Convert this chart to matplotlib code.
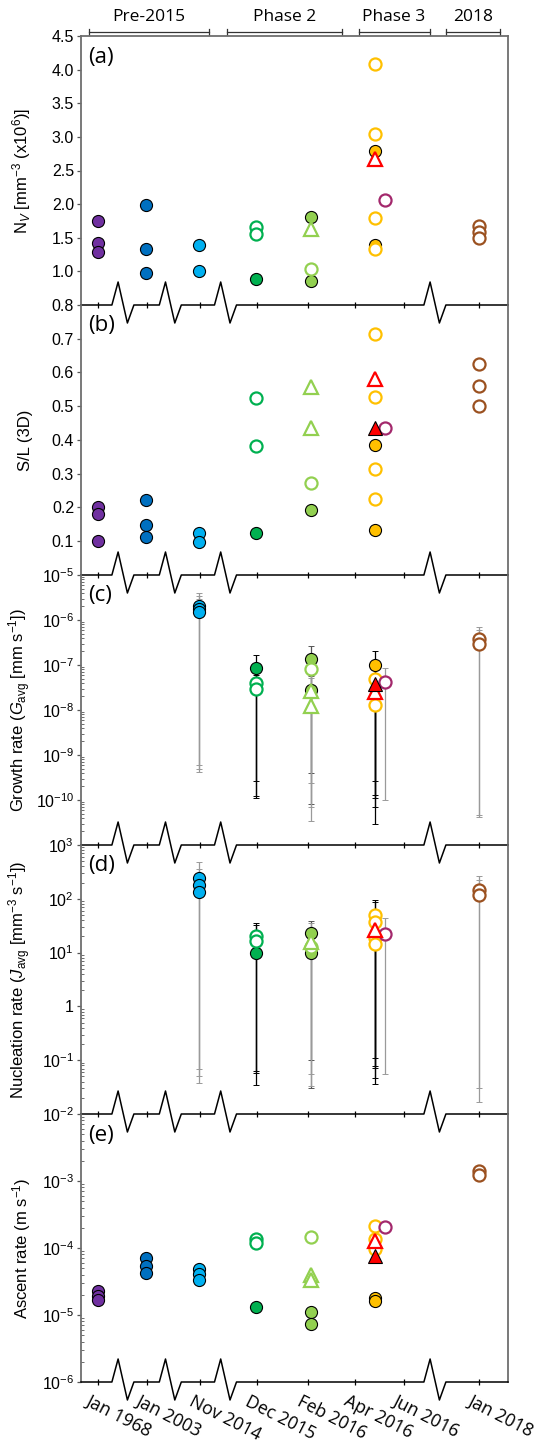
import numpy as np
import matplotlib
matplotlib.use('Agg')
import matplotlib.pyplot as plt
import matplotlib.transforms as mtransforms

plt.rcParams['font.family'] = ['Liberation Sans', 'DejaVu Sans']
plt.rcParams['mathtext.fontset'] = 'custom'
plt.rcParams['mathtext.rm'] = 'Liberation Sans'
plt.rcParams['mathtext.it'] = 'Liberation Sans:italic'
plt.rcParams['mathtext.bf'] = 'Liberation Sans:bold'

# ---- x axis (broken time axis, positions in plot units) ----
x_ticks = [16.6, 66.3, 118.9, 175.7, 227.1, 274.0, 323.0, 398.3]
x_labels = ['Jan 1968', 'Jan 2003', 'Nov 2014', 'Dec 2015', 'Feb 2016',
            'Apr 2016', 'Jun 2016', 'Jan 2018']
x_breaks = [41.9, 89.3, 144.5, 353.9]
phases = ['Pre-2015', 'Phase 2', 'Phase 3', '2018']
phase_start = [7.8, 146.0, 277.6, 364.5]
phase_end = [127.7, 260.5, 348.6, 418.8]

# x position of each sample group
x_1968 = 16.6
x_2003 = 65.3
x_2014 = 117.8
x_dec15 = 175.3
x_feb16 = 229.6
x_apr16 = 293.5
x_apr16b = 304.2
x_2018 = 398.3

# ---- (a) Nv [mm-3 x1e6] ----
nv_purple = [1.75, 1.42, 1.29]
nv_dblue = [1.99, 1.33, 0.98]
nv_lblue = [1.39, 1.00]
nv_green_f = [0.89]
nv_green_o = [1.66, 1.56]
nv_lgreen_f = [1.81, 0.86]
nv_lgreen_oc = [1.04]
nv_lgreen_ot = [1.63]
nv_yellow_f = [2.79, 1.39]
nv_yellow_o = [4.08, 3.04, 1.80, 1.34]
nv_red_ot = [2.67]
nv_red_ft = []
nv_magenta = [2.06]
nv_brown = [1.68, 1.59, 1.49]

# ---- (b) S/L (3D) ----
sl_purple = [0.20, 0.18, 0.10]
sl_dblue = [0.222, 0.147, 0.112]
sl_lblue = [0.125, 0.097]
sl_green_f = [0.125]
sl_green_o = [0.525, 0.381]
sl_lgreen_f = [0.193]
sl_lgreen_oc = [0.272]
sl_lgreen_ot = [0.557, 0.435]
sl_yellow_f = [0.384, 0.133]
sl_yellow_o = [0.715, 0.527, 0.313, 0.225]
sl_red_ot = [0.581]
sl_red_ft = [0.435]
sl_magenta = [0.437]
sl_brown = [0.624, 0.56, 0.50]

# ---- (c) growth rate [mm s-1], value / low / high ----
g_lblue = [2.1e-6, 1.8e-6, 1.5e-6]
g_lblue_lo = [6e-10, 4.9e-10, 4.1e-10]
g_lblue_hi = [4e-6, 3.5e-6, 3e-6]
g_green_f = [8.4e-8]
g_green_f_lo = [2.6e-10]
g_green_f_hi = [1.67e-7]
g_green_o = [3.9e-8, 3.0e-8]
g_green_o_lo = [1.24e-10, 1.13e-10]
g_green_o_hi = [7.8e-8, 6e-8]
g_lgreen_f = [1.34e-7, 2.8e-8]
g_lgreen_f_lo = [3.9e-10, 8e-11]
g_lgreen_f_hi = [2.6e-7, 5.6e-8]
g_lgreen_oc = [8.2e-8]
g_lgreen_oc_lo = [2.4e-10]
g_lgreen_oc_hi = [1.6e-7]
g_lgreen_ot = [2.6e-8, 1.2e-8]
g_lgreen_ot_lo = [7e-11, 3.5e-11]
g_lgreen_ot_hi = [5.2e-8, 2.4e-8]
g_yellow_f = [9.8e-8]
g_yellow_f_lo = [2.6e-10]
g_yellow_f_hi = [2e-7]
g_yellow_o = [5e-8, 1.3e-8]
g_yellow_o_lo = [1.3e-10, 3e-11]
g_yellow_o_hi = [1e-7, 2.6e-8]
g_red_ot = [2.5e-8]
g_red_ot_lo = [7e-11]
g_red_ot_hi = [5e-8]
g_red_ft = [3.8e-8]
g_red_ft_lo = [1.1e-10]
g_red_ft_hi = [7.6e-8]
g_magenta = [4.2e-8]
g_magenta_lo = [1e-10]
g_magenta_hi = [8.5e-8]
g_brown = [3.7e-7, 3.0e-7]
g_brown_lo = [4.6e-11, 4.2e-11]
g_brown_hi = [7e-7, 6e-7]

# ---- (d) nucleation rate [mm-3 s-1] ----
j_lblue = [243, 183, 132]
j_lblue_lo = [0.069, 0.05, 0.038]
j_lblue_hi = [480, 360, 260]
j_green_f = [10]
j_green_f_lo = [0.034]
j_green_f_hi = [20]
j_green_o = [20, 16.7]
j_green_o_lo = [0.062, 0.057]
j_green_o_hi = [35, 32]
j_lgreen_f = [23.3, 10]
j_lgreen_f_lo = [0.1, 0.03]
j_lgreen_f_hi = [39, 20]
j_lgreen_oc = [12.6]
j_lgreen_oc_lo = [0.033]
j_lgreen_oc_hi = [25]
j_lgreen_ot = [15.6]
j_lgreen_ot_lo = [0.056]
j_lgreen_ot_hi = [36]
j_yellow_o = [49, 37, 18.7, 14.3]
j_yellow_o_lo = [0.11, 0.078, 0.047, 0.036]
j_yellow_o_hi = [93, 87, 40, 30]
j_red_ot = [26]
j_red_ot_lo = [0.073]
j_red_ot_hi = [55]
j_magenta = [22.4]
j_magenta_lo = [0.055]
j_magenta_hi = [44]
j_brown = [143, 120]
j_brown_lo = [0.03, 0.017]
j_brown_hi = [265, 220]

# ---- (e) ascent rate [m s-1] ----
a_purple = [2.27e-5, 1.95e-5, 1.66e-5]
a_dblue = [7.0e-5, 5.4e-5, 4.3e-5]
a_lblue = [4.9e-5, 4.1e-5, 3.3e-5]
a_green_f = [1.3e-5]
a_green_o = [1.35e-4, 1.2e-4]
a_lgreen_f = [1.1e-5, 7.4e-6]
a_lgreen_oc = [1.45e-4]
a_lgreen_ot = [3.9e-5, 3.3e-5]
a_yellow_f = [1.8e-5, 1.6e-5]
a_yellow_o = [2.1e-4, 1.35e-4, 9.6e-5]
a_red_ot = [1.27e-4]
a_red_ft = [7.6e-5]
a_magenta = [2.05e-4]
a_brown = [1.42e-3, 1.24e-3]

# marker styles: (x, marker, face, edge, edgewidth, size)
GRAY = '#9a9a9a'
sty = {
    'purple':   (x_1968, 'o', '#7030A0', 'black', 0.8, 8.7),
    'dblue':    (x_2003, 'o', '#0070C0', 'black', 0.8, 8.7),
    'lblue':    (x_2014, 'o', '#00B0F0', 'black', 0.8, 8.7),
    'green_f':  (x_dec15, 'o', '#00B050', 'black', 0.8, 8.7),
    'lgreen_f': (x_feb16, 'o', '#92D050', 'black', 0.8, 8.7),
    'yellow_f': (x_apr16, 'o', '#FFC000', 'black', 0.8, 8.7),
    'green_o':  (x_dec15, 'o', 'white', '#00B050', 1.6, 8.7),
    'lgreen_oc': (x_feb16, 'o', 'white', '#92D050', 1.6, 8.7),
    'yellow_o': (x_apr16, 'o', 'white', '#FFC000', 1.6, 8.7),
    'magenta':  (x_apr16b, 'o', 'white', '#A3286C', 1.6, 8.7),
    'brown':    (x_2018, 'o', 'white', '#9B5120', 1.6, 8.7),
    'lgreen_ot': (x_feb16, '^', 'white', '#92D050', 1.6, 10),
    'red_ot':   (x_apr16, '^', 'white', '#FF0000', 1.6, 10),
    'red_ft':   (x_apr16, '^', '#FF0000', 'black', 0.8, 10),
}
# error bar line colour per series
ecol = {'lblue': GRAY, 'green_f': 'black', 'green_o': 'black', 'lgreen_f': '#555555',
        'lgreen_oc': GRAY, 'lgreen_ot': GRAY, 'yellow_f': 'black', 'yellow_o': 'black',
        'red_ot': 'black', 'red_ft': 'black', 'magenta': GRAY, 'brown': GRAY}

order = ['purple', 'dblue', 'lblue', 'green_f', 'lgreen_f', 'yellow_f',
         'green_o', 'lgreen_oc', 'yellow_o', 'magenta', 'brown',
         'lgreen_ot', 'red_ot', 'red_ft']

g = globals()

W, H = 555, 1447
fig = plt.figure(figsize=(W / 100, H / 100), dpi=100)
left_px, right_px = 81, 508
edges = [36, 305, 575, 845, 1114, 1382]
axes = []
for i in range(5):
    t, b = edges[i], edges[i + 1]
    ax = fig.add_axes([left_px / W, 1 - b / H, (right_px - left_px) / W, (b - t) / H])
    ax.set_facecolor('none')
    axes.append(ax)

prefixes = ['nv', 'sl', 'g', 'j', 'a']
for ax, p in zip(axes, prefixes):
    for k in order:
        name = p + '_' + k
        if name not in g or len(g[name]) == 0:
            continue
        x, m, fc, ec, ew, ms = sty[k]
        vals = np.array(g[name])
        xs = np.full(len(vals), x)
        if name + '_lo' in g:
            lo = np.array(g[name + '_lo'])
            hi = np.array(g[name + '_hi'])
            _, caps, _ = ax.errorbar(xs, vals, yerr=[vals - lo, hi - vals], fmt='none',
                                     ecolor=ecol[k], elinewidth=0.9, capsize=2.4,
                                     capthick=0.7, zorder=1)
            for c in caps:
                c.set_color('#777777')
        ax.plot(xs, vals, ls='none', marker=m, mfc=fc, mec=ec, mew=ew, ms=ms,
                zorder=3, clip_on=False)

# axis limits / scales
axes[0].set_ylim(0.5, 4.5)
axes[0].set_yticks(np.arange(1.0, 4.51, 0.5))
axes[0].set_yticklabels(['%.1f' % v for v in np.arange(1.0, 4.51, 0.5)])
axes[1].set_ylim(0.0, 0.8)
axes[1].set_yticks(np.arange(0.1, 0.81, 0.1))
axes[1].set_yticklabels(['%.1f' % v for v in np.arange(0.1, 0.81, 0.1)])
axes[2].set_yscale('log')
axes[2].set_ylim(1e-11, 1e-5)
axes[2].set_yticks([1e-10, 1e-9, 1e-8, 1e-7, 1e-6, 1e-5],
                   labels=[r'10$^{-%d}$' % n for n in [10, 9, 8, 7, 6, 5]])
axes[3].set_yscale('log')
axes[3].set_ylim(1e-2, 1e3)
axes[3].set_yticks([1e-2, 1e-1, 1, 1e1, 1e2, 1e3],
                   labels=[r'10$^{-2}$', r'10$^{-1}$', '1', r'10$^{1}$', r'10$^{2}$', r'10$^{3}$'])
axes[4].set_yscale('log')
axes[4].set_ylim(1e-6, 1e-2)
axes[4].set_yticks([1e-6, 1e-5, 1e-4, 1e-3],
                   labels=[r'10$^{-%d}$' % n for n in [6, 5, 4, 3]])

ylabels = [r'N$_V$ [mm$^{-3}$ (x10$^6$)]', 'S/L (3D)',
           r'Growth rate ($G_{\rm avg}$ [mm s$^{-1}$])',
           r'Nucleation rate ($J_{\rm avg}$ [mm$^{-3}$ s$^{-1}$])',
           r'Ascent rate (m s$^{-1}$)']
letters = ['(a)', '(b)', '(c)', '(d)', '(e)']

zig_dx = [-11.0, -4.8, 4.5, 11.0]
for i, ax in enumerate(axes):
    hpx = edges[i + 1] - edges[i]
    ax.set_xlim(0, 427)
    ax.set_xticks(x_ticks)
    ax.tick_params(axis='x', direction='inout', length=4.5, width=0.9, color='black',
                   labelbottom=(i == 4), pad=5)
    ax.tick_params(axis='y', which='major', direction='out', length=3, width=0.9,
                   labelsize=11.5, pad=2, color='#555555')
    ax.tick_params(axis='y', which='minor', direction='in', length=2.5, width=0.6,
                   color='#555555')
    ax.spines['bottom'].set_visible(False)
    ax.spines['top'].set_visible(i == 0)
    for s in ['left', 'right', 'top']:
        ax.spines[s].set_color('#6e6e6e')
        ax.spines[s].set_linewidth(1.3)
    ax.set_ylabel(ylabels[i], fontsize=12)
    ax.yaxis.set_label_coords(-0.112, 0.5)
    ax.text(0.017, 1 - 21 / hpx, letters[i], transform=ax.transAxes, fontsize=16,
            family='Open Sans', va='center', ha='left')
    # broken baseline with zigzags
    up, dn = 23 / hpx, -18 / hpx
    xs = [0]
    ys = [0]
    for c in x_breaks:
        xs += [c + zig_dx[0], c + zig_dx[1], c + zig_dx[2], c + zig_dx[3]]
        ys += [0, up, dn, 0]
    xs.append(427)
    ys.append(0)
    ax.plot(xs, ys, color='black', lw=1.1, transform=ax.get_xaxis_transform(),
            clip_on=False, zorder=5)

axes[4].set_xticklabels(x_labels, rotation=-27, ha='left', va='top',
                        rotation_mode='anchor', family='Open Sans', fontsize=12.8)
shift = mtransforms.ScaledTranslation(-6 / 100, 0, fig.dpi_scale_trans)
for lab in axes[4].get_xticklabels():
    lab.set_transform(lab.get_transform() + shift)

# phase brackets on top
ax = axes[0]
hpx = edges[1] - edges[0]
yb = 1 + 4.5 / hpx
cap = 3 / hpx
tr = ax.get_xaxis_transform()
for name, s, e in zip(phases, phase_start, phase_end):
    ax.plot([s, e], [yb, yb], color='#333333', lw=0.9, transform=tr, clip_on=False)
    for xx in (s, e):
        ax.plot([xx, xx], [yb - cap, yb + cap], color='#333333', lw=0.9, transform=tr,
                clip_on=False)
    ax.text((s + e) / 2, 1 + 19 / hpx, name, transform=tr, ha='center', va='center',
            fontsize=12.5, family='Open Sans')

fig.savefig('out.png', dpi=100)
